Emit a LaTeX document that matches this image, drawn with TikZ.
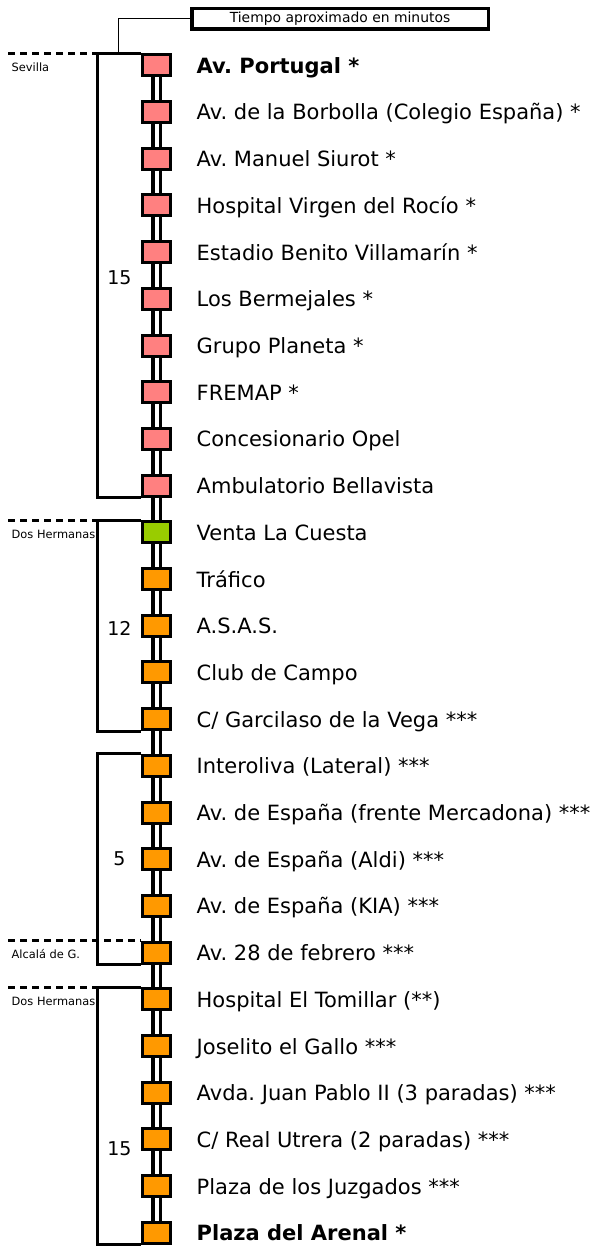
\documentclass[tikz,border=0pt]{standalone}
\usepackage{fontspec}
\setmainfont{DejaVu Sans}
\definecolor{pk}{HTML}{FF8080}
\definecolor{gr}{HTML}{99CC00}
\definecolor{og}{HTML}{FF9900}
\frenchspacing
\begin{document}
\begin{tikzpicture}[x=1pt,y=-1pt,
  stopbox/.style={draw=black, line width=3pt, minimum width=28pt, minimum height=21pt, inner sep=0pt},
  lbl/.style={anchor=base west, inner sep=0pt, font=\fontsize{21}{25}\selectfont},
  reg/.style={anchor=base west, inner sep=0pt, font=\fontsize{11.4}{13}\selectfont},
  num/.style={inner sep=0pt, font=\fontsize{19}{22}\selectfont},
  trk/.style={double=white, double distance=4pt, line width=3.2pt},
  brk/.style={line width=3pt, line join=miter},
  dsh/.style={line width=3pt, dash pattern=on 7pt off 5pt},
  legend/.style={draw=black, line width=3.5pt, minimum width=296.5pt, minimum height=20.5pt, inner sep=0pt, font=\fontsize{13.9}{16}\selectfont}
]
\useasboundingbox (0,0) rectangle (600,1246);
\fill[white] (0,0) rectangle (600,1246);

% stops
\foreach \c/\t [count=\i from 0] in {
  pk/{\textbf{Av. Portugal *}},
  pk/{Av. de la Borbolla (Colegio España) *},
  pk/{Av. Manuel Siurot *},
  pk/{Hospital Virgen del Rocío *},
  pk/{Estadio Benito Villamarín *},
  pk/{Los Bermejales *},
  pk/{Grupo Planeta *},
  pk/{FREMAP *},
  pk/{Concesionario Opel},
  pk/{Ambulatorio Bellavista},
  gr/{Venta La Cuesta},
  og/{Tráfico},
  og/{A.S.A.S.},
  og/{Club de Campo},
  og/{C/ Garcilaso de la Vega ***},
  og/{Interoliva (Lateral) ***},
  og/{Av. de España (frente Mercadona) ***},
  og/{Av. de España (Aldi) ***},
  og/{Av. de España (KIA) ***},
  og/{Av. 28 de febrero ***},
  og/{Hospital El Tomillar (**)},
  og/{Joselito el Gallo ***},
  og/{Avda. Juan Pablo II (3 paradas) ***},
  og/{C/ Real Utrera (2 paradas) ***},
  og/{Plaza de los Juzgados ***},
  og/{\textbf{Plaza del Arenal *}}} {
  \node[stopbox, fill=\c] (s\i) at (156.5, {65.3+46.7*\i}) {};
  \node[lbl] (l\i) at (196.5, {73.3+46.7*\i}) {\t};
}

% track
\foreach \i [evaluate=\i as \j using int(\i+1)] in {0,...,24}
  \draw[trk] (s\i.south) -- (s\j.north);

% region labels
\node[reg] (r1) at (11.5, 71.1) {Sevilla};
\node[reg] (r2) at (11.5, 538.1) {Dos Hermanas};
\node[reg] (r3) at (11.5, 958.4) {Alcalá de G.};
\node[reg] (r4) at (11.5, 1005.1) {Dos Hermanas};

% time numbers
\node[num] (n1) at (119.5, 278) {15};
\node[num] (n2) at (119.5, 628) {12};
\node[num] (n3) at (119.5, 859) {5};
\node[num] (n4) at (119.5, 1149) {15};

% bracket x and dash start
\coordinate (bx) at (97,0);
\coordinate (dx) at (8,0);
\coordinate (lx) at (118,0);

% brackets
\draw[brk] (s0.north west) -- (s0.north west -| bx) -- (s9.south west -| bx) -- (s9.south west);
\draw[brk] (s10.north west) -- (s10.north west -| bx) -- (s14.south west -| bx) -- (s14.south west);
\draw[brk] (s15.north west) -- (s15.north west -| bx) -- (s19.south west -| bx) -- (s19.south west);
\draw[brk] (s20.north west) -- (s20.north west -| bx) -- (s25.south west -| bx) -- (s25.south west);

% dashed boundaries
\draw[dsh] (s0.north west -| dx) -- (s0.north west -| bx);
\draw[dsh] (s10.north west -| dx) -- (s10.north west -| bx);
\draw[dsh] (s19.north west -| dx) -- (s19.north west);
\draw[dsh] (s20.north west -| dx) -- (s20.north west -| bx);

% legend
\node[legend] (leg) at (340,19) {Tiempo aproximado en minutos};
\draw[line width=1pt] (leg.west) -- (leg.west -| lx) -- (s0.north west -| lx);
\end{tikzpicture}
\end{document}
